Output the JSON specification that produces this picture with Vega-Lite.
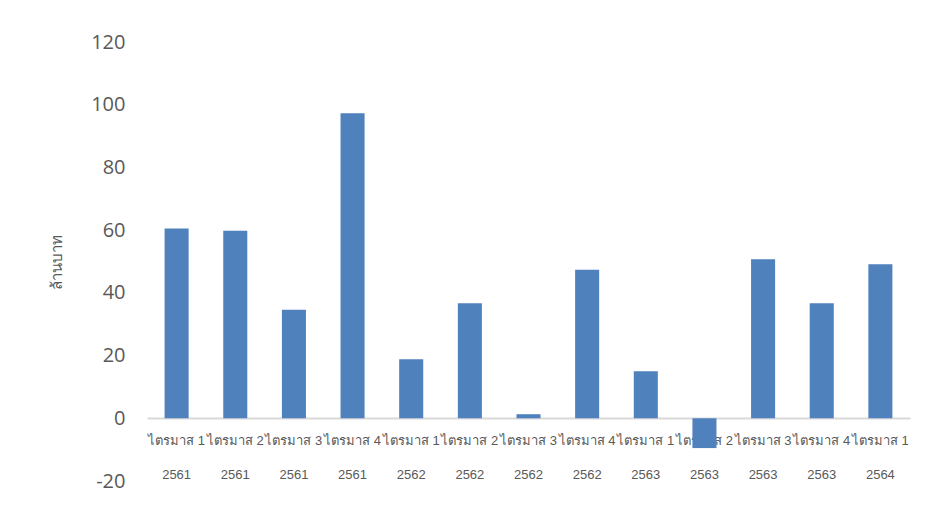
{
  "$schema": "https://vega.github.io/schema/vega-lite/v6.json",
  "width": 763,
  "height": 439,
  "autosize": "none",
  "padding": {"left": 147, "top": 42, "right": 19, "bottom": 24},
  "background": "white",
  "config": {"view": {"stroke": null}},
  "data": {
    "values": [
      {"q": "ไตรมาส 1|2561", "v": 60.5},
      {"q": "ไตรมาส 2|2561", "v": 59.8},
      {"q": "ไตรมาส 3|2561", "v": 34.6},
      {"q": "ไตรมาส 4|2561", "v": 97.3},
      {"q": "ไตรมาส 1|2562", "v": 18.8},
      {"q": "ไตรมาส 2|2562", "v": 36.7},
      {"q": "ไตรมาส 3|2562", "v": 1.3},
      {"q": "ไตรมาส 4|2562", "v": 47.4},
      {"q": "ไตรมาส 1|2563", "v": 15.0},
      {"q": "ไตรมาส 2|2563", "v": -9.5},
      {"q": "ไตรมาส 3|2563", "v": 50.7},
      {"q": "ไตรมาส 4|2563", "v": 36.7},
      {"q": "ไตรมาส 1|2564", "v": 49.1}
    ]
  },
  "mark": {"type": "bar", "color": "#4f81bd"},
  "encoding": {
    "x": {
      "field": "q",
      "type": "nominal",
      "sort": null,
      "scale": {"paddingInner": 0.59, "paddingOuter": 0.3},
      "axis": {
        "title": null,
        "orient": "bottom",
        "offset": -63,
        "labelAngle": 0,
        "labelExpr": "split(datum.value, '|')",
        "labelLineHeight": 34,
        "labelFont": "Liberation Sans",
        "labelFontSize": 13,
        "labelColor": "#595959",
        "labelPadding": 16,
        "ticks": false,
        "domainColor": "#d9d9d9",
        "domainWidth": 2,
        "labelOverlap": false,
        "labelLimit": 0
      }
    },
    "y": {
      "field": "v",
      "type": "quantitative",
      "scale": {"domain": [-20, 120], "nice": false, "zero": false},
      "axis": {
        "title": "ล้านบาท",
        "titleFont": "Liberation Sans",
        "titleFontSize": 15,
        "titleFontWeight": "normal",
        "titleColor": "#595959",
        "titlePadding": 26,
        "values": [-20, 0, 20, 40, 60, 80, 100, 120],
        "labelExpr": "toString(datum.value)",
        "grid": false,
        "domain": false,
        "ticks": false,
        "labelFont": "Open Sans",
        "labelFontSize": 20,
        "labelColor": "#595959",
        "labelPadding": 22
      }
    }
  }
}
